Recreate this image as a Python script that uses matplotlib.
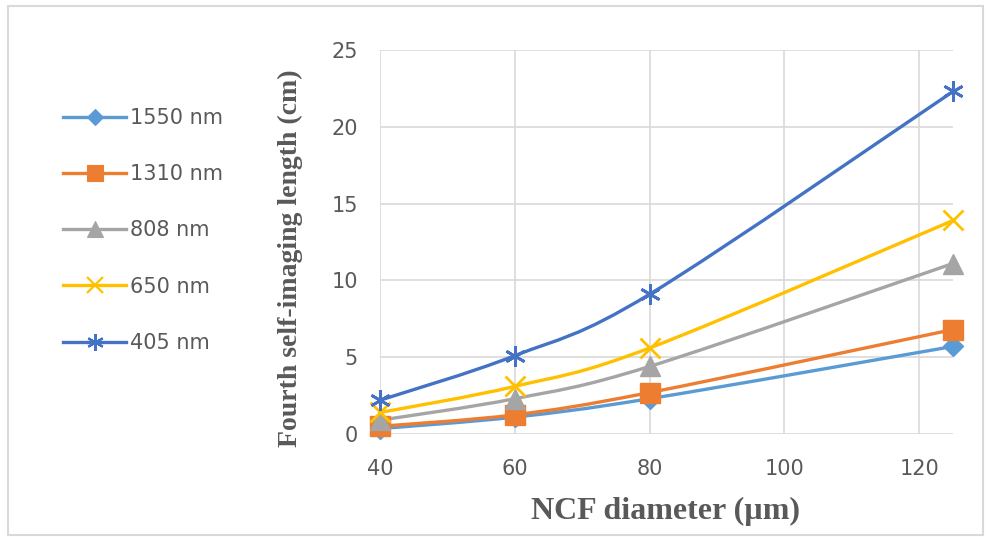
import numpy as np
import matplotlib
matplotlib.use("Agg")
import matplotlib.pyplot as plt
from matplotlib.path import Path
from matplotlib.patches import PathPatch, Rectangle
from matplotlib.lines import Line2D

# NCF diameter (um)
diameter = [40, 60, 80, 125]

# fourth self-imaging length (cm)
len_1550 = [0.35, 1.1, 2.3, 5.7]
len_1310 = [0.5, 1.25, 2.7, 6.8]
len_808 = [0.9, 2.3, 4.4, 11.1]
len_650 = [1.4, 3.1, 5.6, 13.9]
len_405 = [2.2, 5.1, 9.1, 22.3]

labels = ["1550 nm", "1310 nm", "808 nm", "650 nm", "405 nm"]
colors = ["#5B9BD5", "#ED7D31", "#A5A5A5", "#FFC000", "#4472C4"]
markers = ["D", "s", "^", "x", (6, 2, 0)]
msizes = [10, 14, 14, 15, 15]

series = [len_1550, len_1310, len_808, len_650, len_405]

tick_color = "#595959"
tick_font = "DejaVu Sans"


def smooth_path(xs, ys):
    # excel style smoothed line: cubic bezier through the points
    xs = np.asarray(xs, float)
    ys = np.asarray(ys, float)
    pts = np.column_stack([xs, ys])
    n = len(pts)
    verts = [pts[0]]
    codes = [Path.MOVETO]
    for i in range(n - 1):
        p0 = pts[i - 1] if i > 0 else pts[i]
        p1 = pts[i]
        p2 = pts[i + 1]
        p3 = pts[i + 2] if i + 2 < n else pts[i + 1]
        c1 = p1 + (p2 - p0) / 6.0
        c2 = p2 - (p3 - p1) / 6.0
        verts += [c1, c2, p2]
        codes += [Path.CURVE4] * 3
    return Path(verts, codes)


fig = plt.figure(figsize=(9.89, 5.37), dpi=100)
ax = fig.add_axes([0.3842, 0.1918, 0.5794, 0.7151])

handles = []
for vals, lab, col, mk, ms in zip(series, labels, colors, markers, msizes):
    patch = PathPatch(smooth_path(diameter, vals), facecolor="none",
                      edgecolor=col, lw=2.4, zorder=3, capstyle="round")
    ax.add_patch(patch)
    mew = 2.0 if mk in ("x",) or isinstance(mk, tuple) else 1.0
    ax.plot(diameter, vals, linestyle="none", marker=mk, ms=ms, color=col,
            mec=col, mew=mew, zorder=4, clip_on=False)
    handles.append(Line2D([0], [0], color=col, lw=2.4, marker=mk,
                          ms=ms * 0.8, mec=col, mew=mew * 0.8))

ax.set_xlim(40, 125)
ax.set_ylim(0, 25)
ax.set_xticks([40, 60, 80, 100, 120])
ax.set_yticks([0, 5, 10, 15, 20, 25])
ax.grid(True, color="#D9D9D9", lw=1.2)
ax.set_axisbelow(True)
for s in ax.spines.values():
    s.set_visible(False)
ax.tick_params(length=0, colors=tick_color, labelsize=15)
ax.tick_params(axis="x", pad=18)
ax.tick_params(axis="y", pad=16)
for t in ax.get_xticklabels() + ax.get_yticklabels():
    t.set_fontfamily(tick_font)

fig.text(0.6724, 0.047, "NCF diameter (\u00b5m)", ha="center", va="center",
         fontsize=23, fontweight="bold", family="Liberation Serif",
         color=tick_color)
fig.text(0.294, 0.52, "Fourth self-imaging length (cm)", ha="center",
         va="center", rotation=90, fontsize=20, fontweight="bold",
         family="Liberation Serif", color=tick_color)

leg = fig.legend(handles, labels, loc="upper left",
                 bbox_to_anchor=(0.045, 0.834), frameon=False,
                 handlelength=3.0, handletextpad=0.2, labelspacing=1.74,
                 prop={"family": tick_font, "size": 15})
for t in leg.get_texts():
    t.set_color(tick_color)

# outer chart border
fig.patches.append(Rectangle((0.008, 0.004), 0.986, 0.985,
                             transform=fig.transFigure, fill=False,
                             edgecolor="#D9D9D9", lw=1.5))

fig.savefig("out.png", dpi=100)
